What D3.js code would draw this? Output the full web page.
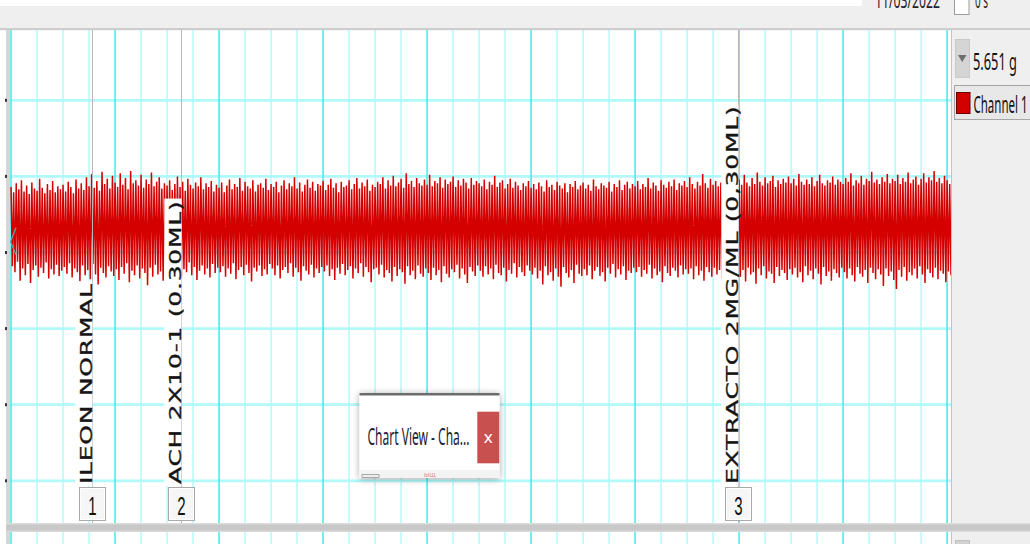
<!DOCTYPE html>
<html>
<head>
<meta charset="utf-8">
<script src="https://cdn.jsdelivr.net/npm/d3@7"></script>
<style>
    html, body { margin: 0; padding: 0; background: #fff; overflow: hidden; }
    #chart-view { width: 1030px; height: 544px; }
</style>
</head>
<body>
<div id="chart-view"></div>
<script>
// channel 1 envelope (g), one max/min pair per 1 s bin
var peakMax = [
    5.86, 5.79, 5.91, 5.83, 5.95, 5.80, 5.88, 5.77, 5.92, 5.84, 5.81, 5.97, 5.85, 5.78, 5.90, 5.82, 5.94, 5.79, 5.87, 5.83,
    5.89, 5.80, 5.93, 5.86, 5.78, 5.96, 5.84, 5.91, 5.82, 5.99, 5.87, 6.03, 5.85, 5.94, 5.81, 6.06, 5.90, 5.97, 5.84, 6.01,
    5.92, 5.86, 6.04, 5.89, 5.98, 5.83, 6.07, 5.91, 5.95, 5.88, 6.02, 5.85, 5.96, 5.90, 6.05, 5.87, 5.93, 5.99, 5.84, 5.91,
    5.88, 5.95, 5.82, 5.90, 6.00, 5.86, 5.93, 5.81, 5.97, 5.89, 5.84, 5.92, 5.87, 5.99, 5.83, 5.91, 5.86, 5.94, 5.80, 5.89,
    5.85, 5.92, 5.79, 5.88, 5.96, 5.83, 5.90, 5.86, 5.98, 5.81, 5.93, 5.87, 5.84, 5.95, 5.80, 5.89, 5.91, 5.85, 5.97, 5.82,
    5.90, 5.86, 5.93, 5.79, 5.88, 5.95, 5.83, 5.91, 5.87, 5.99, 5.84, 5.92, 5.80, 5.89, 5.96, 5.85, 5.93, 5.81, 5.90, 5.88,
    5.94, 5.82, 5.89, 5.97, 5.85, 5.91, 5.79, 5.93, 5.86, 5.88, 5.95, 5.83, 5.90, 5.98, 5.84, 5.92, 5.87, 5.96, 5.81, 5.89,
    5.86, 5.93, 5.90, 5.99, 5.84, 5.95, 5.88, 6.01, 5.87, 5.92, 5.97, 5.85, 6.04, 5.90, 5.94, 5.86, 5.98, 5.91, 5.88, 5.96,
    5.89, 6.02, 5.87, 5.94, 5.91, 5.99, 5.85, 5.96, 5.90, 5.93, 6.00, 5.86, 5.95, 5.88, 5.97, 5.92, 5.84, 5.98, 5.89, 5.94,
    5.91, 5.87, 5.96, 5.83, 5.93, 5.89, 6.01, 5.86, 5.92, 5.95, 5.84, 5.90, 5.97, 5.85, 5.93, 5.88, 5.82, 5.91, 5.87, 5.94,
    5.85, 5.90, 5.83, 5.92, 5.87, 5.80, 5.95, 5.86, 5.89, 5.82, 5.93, 5.88, 5.84, 5.91, 5.79, 5.90, 5.86, 5.94, 5.83, 5.88,
    5.92, 5.84, 5.89, 5.81, 5.96, 5.87, 5.83, 5.91, 5.88, 5.85, 5.93, 5.80, 5.90, 5.86, 5.95, 5.82, 5.89, 5.93, 5.84, 5.90,
    5.87, 5.94, 5.83, 5.90, 5.86, 5.98, 5.84, 5.92, 5.88, 5.81, 5.95, 5.89, 5.85, 5.93, 5.87, 5.96, 5.82, 5.91, 5.88, 5.94,
    5.86, 5.99, 5.90, 5.84, 5.93, 5.88, 6.03, 5.91, 5.85, 5.97, 5.89, 5.94, 5.87, 5.92, 5.90, 5.86, 5.95, 5.89, 5.93, 5.88,
    5.96, 5.89, 6.02, 5.92, 5.87, 5.98, 5.90, 6.05, 5.93, 5.88, 5.99, 5.91, 5.94, 6.01, 5.86, 5.95, 5.90, 5.97, 5.92, 6.00,
    5.91, 5.97, 5.88, 6.03, 5.93, 5.89, 5.96, 5.90, 5.99, 5.87, 5.94, 6.02, 5.91, 5.88, 5.95, 5.92, 6.00, 5.89, 5.96, 5.93,
    5.90, 5.98, 5.93, 6.04, 5.88, 5.95, 5.91, 6.01, 5.89, 5.97, 5.94, 6.06, 5.92, 5.96, 5.90, 5.99, 5.93, 6.03, 5.91, 5.97,
    5.94, 6.02, 5.90, 5.98, 5.93, 6.05, 5.91, 5.96, 6.00, 5.89, 5.97, 6.04, 5.92, 5.99, 5.95, 6.07, 5.93, 5.98, 5.91, 6.01,
    5.95, 5.90
];
var peakMin = [
    4.82, 4.74, 4.88, 4.63, 4.79, 4.70, 4.85, 4.60, 4.77, 4.83, 4.68, 4.80, 4.73, 4.87, 4.66, 4.78, 4.71, 4.84, 4.69, 4.76,
    4.81, 4.72, 4.86, 4.67, 4.79, 4.74, 4.62, 4.83, 4.70, 4.77, 4.65, 4.85, 4.71, 4.58, 4.80, 4.73, 4.67, 4.82, 4.75, 4.69,
    4.78, 4.64, 4.81, 4.72, 4.86, 4.61, 4.76, 4.70, 4.83, 4.66, 4.79, 4.73, 4.57, 4.80, 4.68, 4.84, 4.71, 4.75, 4.63, 4.82,
    4.77, 4.69, 4.84, 4.72, 4.80, 4.66, 4.78, 4.74, 4.87, 4.70, 4.81, 4.64, 4.76, 4.83, 4.71, 4.79, 4.67, 4.85, 4.73, 4.80,
    4.74, 4.82, 4.68, 4.79, 4.72, 4.86, 4.65, 4.77, 4.81, 4.70, 4.84, 4.73, 4.62, 4.80, 4.75, 4.83, 4.69, 4.78, 4.71, 4.85,
    4.79, 4.70, 4.83, 4.66, 4.77, 4.81, 4.73, 4.86, 4.68, 4.80, 4.74, 4.63, 4.82, 4.76, 4.71, 4.84, 4.67, 4.79, 4.73, 4.81,
    4.75, 4.83, 4.69, 4.78, 4.64, 4.80, 4.72, 4.85, 4.70, 4.77, 4.82, 4.66, 4.79, 4.73, 4.86, 4.68, 4.81, 4.74, 4.61, 4.78,
    4.80, 4.71, 4.84, 4.67, 4.77, 4.73, 4.62, 4.81, 4.69, 4.78, 4.74, 4.59, 4.82, 4.70, 4.76, 4.65, 4.83, 4.72, 4.68, 4.79,
    4.73, 4.64, 4.80, 4.70, 4.77, 4.61, 4.82, 4.72, 4.67, 4.78, 4.74, 4.84, 4.66, 4.79, 4.71, 4.60, 4.81, 4.75, 4.69, 4.83,
    4.76, 4.68, 4.82, 4.71, 4.79, 4.65, 4.84, 4.73, 4.70, 4.80, 4.62, 4.77, 4.72, 4.86, 4.67, 4.81, 4.74, 4.69, 4.83, 4.76,
    4.71, 4.80, 4.66, 4.76, 4.58, 4.82, 4.70, 4.74, 4.63, 4.79, 4.68, 4.55, 4.81, 4.73, 4.67, 4.77, 4.60, 4.84, 4.72, 4.69,
    4.78, 4.70, 4.83, 4.65, 4.76, 4.81, 4.69, 4.74, 4.62, 4.80, 4.72, 4.85, 4.67, 4.78, 4.71, 4.82, 4.64, 4.76, 4.73, 4.80,
    4.74, 4.81, 4.68, 4.77, 4.72, 4.84, 4.66, 4.79, 4.70, 4.75, 4.61, 4.82, 4.73, 4.69, 4.80, 4.76, 4.67, 4.83, 4.71, 4.78,
    4.72, 4.79, 4.65, 4.82, 4.70, 4.76, 4.63, 4.81, 4.74, 4.68, 4.80, 4.71, 4.77, 4.66, 4.83, 4.73, 4.69, 4.78, 4.75, 4.80,
    4.68, 4.77, 4.62, 4.80, 4.71, 4.74, 4.59, 4.79, 4.70, 4.82, 4.66, 4.75, 4.72, 4.60, 4.81, 4.69, 4.77, 4.73, 4.64, 4.78,
    4.71, 4.80, 4.67, 4.74, 4.61, 4.82, 4.70, 4.76, 4.65, 4.79, 4.72, 4.58, 4.81, 4.69, 4.75, 4.63, 4.78, 4.73, 4.67, 4.80,
    4.74, 4.66, 4.79, 4.70, 4.62, 4.81, 4.72, 4.68, 4.77, 4.60, 4.80, 4.73, 4.65, 4.78, 4.71, 4.56, 4.79, 4.69, 4.75, 4.64,
    4.52, 4.77, 4.68, 4.81, 4.63, 4.74, 4.70, 4.79, 4.66, 4.82, 4.71, 4.60, 4.78, 4.73, 4.67, 4.80, 4.65, 4.76, 4.72, 4.61,
    4.75, 4.70
];

// comments / event markers (time in s)
var eventTimes = [31.3, 65.3, 279.6];
var eventLabels = ["ILEON NORMAL", "ACH 2X10-1 (0.30ML)", "EXTRACTO 2MG/ML (0,30ML)"];
var eventNumbers = ["1", "2", "3"];

// grid
var timeGrid = d3.range(0, 361, 10);   // minor division = 10 s
var timeMajorEvery = 40;
var valueTicks = [2, 3, 4, 5, 6, 7];   // g

var channelName = "Channel 1";
var channelReadout = "5.651 g";
var recordDate = "11/03/2022";

function ChartView() {

    var cv = this;

    cv.createSVG = createSVG;
    cv.drawGrid = drawGrid;
    cv.drawTrace = drawTrace;
    cv.drawEvents = drawEvents;
    cv.drawChrome = drawChrome;
    cv.drawPopup = drawPopup;

    /////////////////////////////////////

    var plot = { left: 10, right: 951, top: 30, bottom: 523 };

    function createSVG(selector) {
        cv.svg = d3.select(selector).append("svg")
            .attr("width", 1030)
            .attr("height", 544)
            .style("display", "block")
            .style("font-family", "'Noto Sans', sans-serif");

        var defs = cv.svg.append("defs");
        defs.append("clipPath").attr("id", "clipPlot")
            .append("rect")
                .attr("x", plot.left).attr("y", plot.top)
                .attr("width", plot.right - plot.left).attr("height", plot.bottom - plot.top);
        defs.append("filter").attr("id", "popShadow")
            .attr("x", "-20%").attr("y", "-20%").attr("width", "140%").attr("height", "140%")
            .append("feDropShadow")
                .attr("dx", 0).attr("dy", 1).attr("stdDeviation", 3.5)
                .attr("flood-color", "#000").attr("flood-opacity", 0.35);

        cv.x = d3.scaleLinear().domain([-0.4, 361.5]).range([plot.left, plot.right]);
        cv.y = d3.scaleLinear().domain([2, 7]).range([480.8, 100.3]);

        cv.svg.append("rect").attr("width", 1030).attr("height", 544).attr("fill", "#fff");
    }

    function drawGrid() {
        var g = cv.svg.append("g");

        // horizontal (value) lines
        g.selectAll("line.h").data(valueTicks).enter().append("line")
            .attr("x1", 6).attr("x2", plot.right)
            .attr("y1", function(d) { return cv.y(d); })
            .attr("y2", function(d) { return cv.y(d); })
            .attr("stroke", "#b2f9f9").attr("stroke-width", 2.8);

        // vertical (time) lines, main plot and the strip below the splitter
        [[plot.top, plot.bottom], [532, 544]].forEach(function(span) {
            g.selectAll(null).data(timeGrid).enter().append("line")
                .attr("x1", function(d) { return cv.x(d); })
                .attr("x2", function(d) { return cv.x(d); })
                .attr("y1", span[0]).attr("y2", span[1])
                .attr("stroke", function(d) { return d % timeMajorEvery === 0 ? "#4eeaea" : "#a8f8f8"; })
                .attr("stroke-width", function(d) { return d % timeMajorEvery === 0 ? 1.6 : 1.3; });
        });
    }

    function drawTrace() {
        // zigzag max -> min inside each bin, like the compressed recorder view
        var pts = [];
        peakMax.forEach(function(v, i) {
            pts.push([cv.x(i), cv.y(v)]);
            pts.push([cv.x(i + 0.5), cv.y(peakMin[i])]);
        });

        cv.svg.append("path")
            .attr("clip-path", "url(#clipPlot)")
            .attr("d", d3.line()(pts))
            .attr("fill", "none")
            .attr("stroke", "#d40000")
            .attr("stroke-width", 1.5)
            .attr("stroke-linejoin", "miter");
    }

    function drawEvents() {
        var g = cv.svg.append("g");

        eventTimes.forEach(function(t, i) {
            var ex = Math.round(cv.x(t));

            g.append("line")
                .attr("x1", ex + 0.5).attr("x2", ex + 0.5)
                .attr("y1", plot.top).attr("y2", plot.bottom)
                .attr("stroke", "#b8b8b8").attr("stroke-width", 1);

            // rotated comment, squeezed across like the recorder draws it
            var lab = g.append("g")
                .attr("transform", "translate(" + (ex - 0.5) + ",484) scale(0.6,1) rotate(-90)");
            var box = lab.append("rect").attr("fill", "#fff");
            var txt = lab.append("text")
                .attr("x", 0).attr("y", 0)
                .style("font-family", "'DejaVu Sans', Verdana, sans-serif")
                .style("font-size", "25px")
                .style("letter-spacing", "0.75px")
                .attr("fill", "#151515")
                .attr("stroke", "#151515").attr("stroke-width", 0.5)
                .text(eventLabels[i]);
            var len = txt.node().getComputedTextLength();
            box.attr("x", -2).attr("y", -27).attr("width", len + 4).attr("height", 28.5);

            // numbered tag
            g.append("rect")
                .attr("x", ex - 12.5).attr("y", 487.5)
                .attr("width", 26).attr("height", 33)
                .attr("fill", "#f6f6f6").attr("stroke", "#a9a9a9");
            g.append("rect")
                .attr("x", ex - 11.5).attr("y", 488.5)
                .attr("width", 24).attr("height", 31)
                .attr("fill", "none").attr("stroke", "#fff");
            g.append("g")
                .attr("transform", "translate(" + (ex + 0.5) + ",515) scale(0.6,1)")
                .append("text")
                    .attr("text-anchor", "middle")
                    .style("font-family", "'Liberation Sans', Arial, sans-serif")
                    .style("font-size", "25px")
                    .attr("fill", "#111")
                    .text(eventNumbers[i]);
        });
    }

    function drawChrome() {
        var s = cv.svg;

        // left border and value ticks
        s.append("rect").attr("x", 6).attr("y", plot.top).attr("width", 4).attr("height", plot.bottom - plot.top)
            .attr("fill", "#d6d6d6");
        s.append("rect").attr("x", 6).attr("y", 532).attr("width", 4).attr("height", 12).attr("fill", "#d6d6d6");
        s.selectAll("rect.tick").data(valueTicks).enter().append("rect")
            .attr("x", 5).attr("y", function(d) { return cv.y(d) - 1.5; })
            .attr("width", 2).attr("height", 3).attr("fill", "#333");

        // offset chevron on the left edge
        var cy = cv.y(5.14);
        s.append("path")
            .attr("d", "M16," + (cy - 14) + "L10.5," + cy + "L16," + (cy + 13))
            .attr("fill", "none").attr("stroke", "#5aa8a8").attr("stroke-width", 1.3);

        // top toolbar
        s.append("rect").attr("width", 1030).attr("height", 29).attr("fill", "#efefef");
        s.append("rect").attr("width", 862).attr("height", 6).attr("fill", "#fff");
        s.append("rect").attr("y", 28).attr("width", 1030).attr("height", 2.2).attr("fill", "#cdcdcd");
        s.append("text").attr("x", 875).attr("y", 8)
            .attr("textLength", 65).attr("lengthAdjust", "spacingAndGlyphs")
            .style("font-size", "22px").attr("fill", "#222").text(recordDate);
        s.append("rect").attr("x", 954.5).attr("y", -3).attr("width", 14.5).attr("height", 17.5)
            .attr("fill", "#fff").attr("stroke", "#9c9c9c");
        s.append("text").attr("x", 975).attr("y", 8)
            .attr("textLength", 13).attr("lengthAdjust", "spacingAndGlyphs")
            .style("font-size", "22px").attr("fill", "#222").text("0 s");

        // splitter under the plot
        s.append("rect").attr("x", 6).attr("y", 523).attr("width", 1024).attr("height", 9).attr("fill", "#c8c8c8");
        s.append("rect").attr("x", 6).attr("y", 523).attr("width", 1024).attr("height", 1.5).attr("fill", "#dcdcdc");
        s.append("rect").attr("x", 6).attr("y", 530.5).attr("width", 1024).attr("height", 1.5).attr("fill", "#d8d8d8");

        // right side panel
        s.append("rect").attr("x", plot.right).attr("y", 30).attr("width", 79).attr("height", 493).attr("fill", "#efefef");
        s.append("rect").attr("x", plot.right).attr("y", 532).attr("width", 79).attr("height", 12).attr("fill", "#efefef");
        s.append("line").attr("x1", plot.right + 0.5).attr("x2", plot.right + 0.5).attr("y1", 30).attr("y2", 523)
            .attr("stroke", "#c2c2c2");
        s.append("line").attr("x1", plot.right + 0.5).attr("x2", plot.right + 0.5).attr("y1", 532).attr("y2", 544)
            .attr("stroke", "#c2c2c2");
        s.append("rect").attr("x", 955.5).attr("y", 540.5).attr("width", 14).attr("height", 8)
            .attr("fill", "#d2d2d2").attr("stroke", "#c0c0c0");

        // readout
        s.append("rect").attr("x", 955.5).attr("y", 39.5).attr("width", 14).attr("height", 38)
            .attr("fill", "#d5d5d5").attr("stroke", "#c9c9c9");
        s.append("path").attr("d", "M958,55L966.5,55L962.2,62Z").attr("fill", "#6e6e6e");
        s.append("text").attr("x", 973).attr("y", 70)
            .attr("textLength", 44).attr("lengthAdjust", "spacingAndGlyphs")
            .style("font-size", "24px").attr("fill", "#111").text(channelReadout);

        // channel legend
        s.append("rect").attr("x", 954.5).attr("y", 85.5).attr("width", 80).attr("height", 34)
            .attr("fill", "#e8e8e8").attr("stroke", "#a6a6a6");
        s.append("rect").attr("x", 956.5).attr("y", 92.5).attr("width", 13.5).attr("height", 21)
            .attr("fill", "#d40000").attr("stroke", "#6a0000");
        s.append("text").attr("x", 973.5).attr("y", 113)
            .attr("textLength", 54).attr("lengthAdjust", "spacingAndGlyphs")
            .style("font-size", "24px").attr("fill", "#111").text(channelName);
    }

    function drawPopup() {
        var g = cv.svg.append("g");

        g.append("rect").attr("x", 359.5).attr("y", 393).attr("width", 140).attr("height", 85)
            .attr("fill", "#fff").attr("filter", "url(#popShadow)");
        g.append("rect").attr("x", 359.5).attr("y", 393).attr("width", 140).attr("height", 2.5).attr("fill", "#6c6c6c");
        g.append("rect").attr("x", 359.5).attr("y", 470).attr("width", 140).attr("height", 8).attr("fill", "#f3f3f3");
        g.append("rect").attr("x", 362).attr("y", 474.5).attr("width", 17).attr("height", 3)
            .attr("fill", "#eee").attr("stroke", "#9a9a9a").attr("stroke-width", 0.8);
        g.append("text").attr("x", 424).attr("y", 477).style("font-size", "7px").attr("fill", "#e98a8a").text("ыщ");

        g.append("text").attr("x", 367.5).attr("y", 445)
            .attr("textLength", 102).attr("lengthAdjust", "spacingAndGlyphs")
            .style("font-size", "23px").attr("fill", "#1c1c38").text("Chart View - Cha...");

        g.append("rect").attr("x", 477.3).attr("y", 411.7).attr("width", 22).attr("height", 51.6).attr("fill", "#c8514f");
        g.append("text").attr("x", 488.3).attr("y", 443).attr("text-anchor", "middle")
            .style("font-size", "17px").attr("fill", "#fff").text("x");
    }
}

(function() {
    var cv = new ChartView();
    cv.createSVG("#chart-view");
    cv.drawGrid();
    cv.drawTrace();
    cv.drawEvents();
    cv.drawChrome();
    cv.drawPopup();
})();
</script>
</body>
</html>
